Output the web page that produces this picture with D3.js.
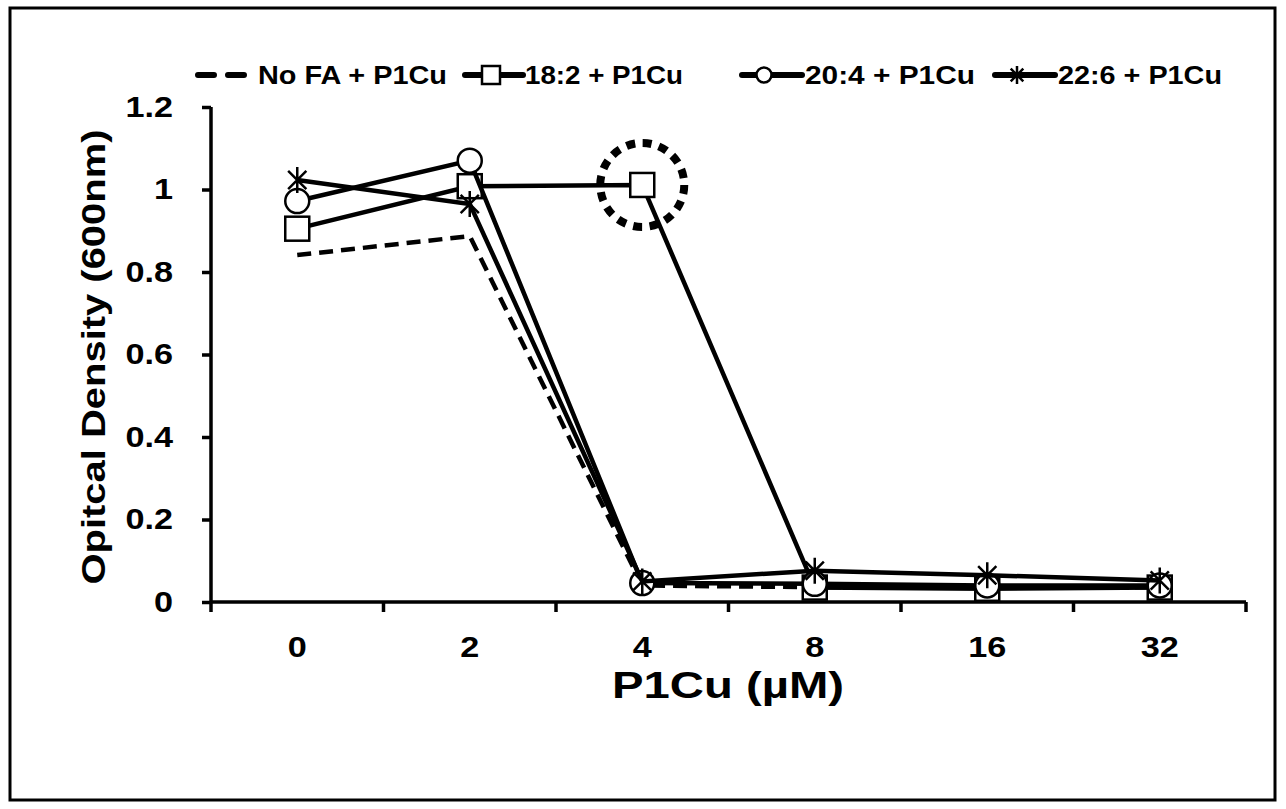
<!DOCTYPE html>
<html>
<head>
<meta charset="utf-8">
<script src="https://cdn.jsdelivr.net/npm/d3@7"></script>
<style>
  body { margin: 0; background: #fff; }
  text { font-family: "Liberation Sans", Arial, sans-serif; font-weight: bold; fill: #000; }
</style>
</head>
<body>
<div id="chart"></div>
<script>
// P1Cu concentrations (uM)
const doses = ["0", "2", "4", "8", "16", "32"];
const yTicks = [0, 0.2, 0.4, 0.6, 0.8, 1, 1.2];

// optical density at 600nm
const noFA  = [0.841, 0.887, 0.040, 0.036, 0.036, 0.036];
const fa182 = [0.905, 1.008, 1.011, 0.035, 0.032, 0.035];
const fa204 = [0.972, 1.070, 0.046, 0.044, 0.040, 0.040];
const fa226 = [1.023, 0.965, 0.050, 0.076, 0.065, 0.052];

const seriesNames = ["No FA + P1Cu", "18:2 + P1Cu", "20:4 + P1Cu", "22:6 + P1Cu"];

const width = 1286, height = 809;
const sx = 1.18; // text in the original is drawn wide

const svg = d3.select("#chart").append("svg")
    .attr("width", width)
    .attr("height", height);

// outer frame
svg.append("rect")
    .attr("x", 10).attr("y", 8)
    .attr("width", 1265).attr("height", 792)
    .attr("fill", "none")
    .attr("stroke", "#000")
    .attr("stroke-width", 3);

const x = d3.scaleBand().domain(doses).range([211, 1246]);
const y = d3.scaleLinear().domain([0, 1.2]).range([602, 107]);
const cx = d => x(d) + x.bandwidth() / 2;

// y axis
const yAxis = svg.append("g")
    .attr("transform", "translate(211,0)")
    .call(d3.axisLeft(y).tickValues(yTicks).tickSize(9).tickFormat(d3.format("~g")));
yAxis.select(".domain").attr("stroke-width", 3.5).attr("d", `M0,${y(1.2)}V${y(0)}`);
yAxis.selectAll(".tick line").attr("stroke-width", 3.5);
yAxis.selectAll(".tick text")
    .attr("font-size", 29).attr("font-family", "Liberation Sans").attr("font-weight", "bold")
    .attr("x", -38 / sx)
    .attr("transform", `scale(${sx},1)`);

// x axis: labels centered, ticks on category boundaries
const xAxis = svg.append("g")
    .attr("transform", `translate(0,${y(0)})`)
    .call(d3.axisBottom(x).tickSize(0).tickPadding(34));
xAxis.select(".domain").attr("stroke-width", 3.5).attr("d", `M${x.range()[0]},0H${x.range()[1]}`);
xAxis.selectAll(".tick text")
    .attr("font-size", 29).attr("font-family", "Liberation Sans").attr("font-weight", "bold")
    .attr("transform", `scale(${sx},1)`);
xAxis.selectAll(".boundary")
    .data(doses.map(d => x(d)).concat([x.range()[1]]))
    .enter().append("line")
    .attr("x1", d => d).attr("x2", d => d)
    .attr("y1", 0).attr("y2", 10)
    .attr("stroke", "#000").attr("stroke-width", 3.5);

// axis titles
svg.append("text")
    .attr("transform", "translate(105,357) rotate(-90)")
    .attr("text-anchor", "middle")
    .attr("font-size", 33)
    .attr("textLength", 455)
    .attr("lengthAdjust", "spacingAndGlyphs")
    .text("Opitcal Density (600nm)");

svg.append("text")
    .attr("x", 728).attr("y", 698)
    .attr("text-anchor", "middle")
    .attr("font-size", 37)
    .attr("textLength", 232)
    .attr("lengthAdjust", "spacingAndGlyphs")
    .text("P1Cu (\u00b5M)");

const line = d3.line().x((d, i) => cx(doses[i])).y(d => y(d));

function starPath(s) {
  const a = s * 0.7;
  return `M0,${-s}V${s}M${-a},${-a}L${a},${a}M${-a},${a}L${a},${-a}`;
}

function drawMarker(g, type, size) {
  if (type === "square") {
    g.append("rect")
      .attr("x", -size / 2).attr("y", -size / 2)
      .attr("width", size).attr("height", size)
      .attr("fill", "#fff").attr("stroke", "#000").attr("stroke-width", 2.5);
  } else if (type === "circle") {
    g.append("circle")
      .attr("r", size / 2)
      .attr("fill", "#fff").attr("stroke", "#000").attr("stroke-width", 2.5);
  } else if (type === "star") {
    g.append("path")
      .attr("d", starPath(size / 2))
      .attr("fill", "none").attr("stroke", "#000").attr("stroke-width", 2.5);
  }
}

const series = [
  { values: noFA, dash: "14,8", marker: null },
  { values: fa182, dash: null, marker: "square" },
  { values: fa204, dash: null, marker: "circle" },
  { values: fa226, dash: null, marker: "star" }
];

series.forEach(s => {
  svg.append("path")
    .attr("d", line(s.values))
    .attr("fill", "none")
    .attr("stroke", "#000")
    .attr("stroke-width", 4.5)
    .attr("stroke-dasharray", s.dash);
  if (s.marker) {
    s.values.forEach((v, i) => {
      const g = svg.append("g").attr("transform", `translate(${cx(doses[i])},${y(v)})`);
      drawMarker(g, s.marker, s.marker === "star" ? 26 : 24);
    });
  }
});

// dotted highlight circle around 18:2 at 4 uM
svg.append("circle")
  .attr("cx", cx("4")).attr("cy", y(fa182[2]))
  .attr("r", 42)
  .attr("fill", "none")
  .attr("stroke", "#000")
  .attr("stroke-width", 8)
  .attr("stroke-dasharray", "9,7.5");

// legend
const legendY = 75;
const legendItems = [
  { x0: 198, x1: 245, mx: null, tx: 258, tw: 189 },
  { x0: 465, x1: 523, mx: 491, tx: 525, tw: 158 },
  { x0: 742, x1: 802, mx: 764, tx: 805, tw: 170 },
  { x0: 995, x1: 1055, mx: 1017, tx: 1058, tw: 164 }
];
legendItems.forEach((it, i) => {
  const s = series[i];
  svg.append("line")
    .attr("x1", it.x0).attr("x2", it.x1)
    .attr("y1", legendY).attr("y2", legendY)
    .attr("stroke", "#000").attr("stroke-width", 6)
    .attr("stroke-linecap", "round")
    .attr("stroke-dasharray", s.dash ? "16,14" : null);
  if (s.marker) {
    const g = svg.append("g").attr("transform", `translate(${it.mx},${legendY})`);
    drawMarker(g, s.marker, s.marker === "circle" ? 15 : 18);
  }
  svg.append("text")
    .attr("x", it.tx).attr("y", legendY + 9)
    .attr("font-size", 25)
    .attr("textLength", it.tw)
    .attr("lengthAdjust", "spacingAndGlyphs")
    .text(seriesNames[i]);
});
</script>
</body>
</html>
